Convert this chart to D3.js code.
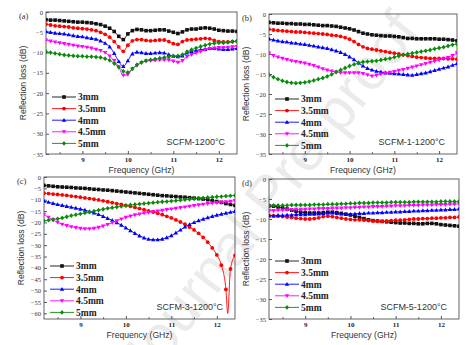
<!DOCTYPE html>
<html>
<head>
<meta charset="utf-8">
<script src="https://cdn.jsdelivr.net/npm/d3@7"></script>
<style>
  body { margin: 0; background: #fff; }
  svg { display: block; }
  .tick-y { font: 6.5px "Liberation Serif", "Times New Roman", serif; fill: #333; }
  .tick-x { font: bold 7px "Liberation Serif", "Times New Roman", serif; fill: #222; }
  .title { font: 8.6px "Liberation Sans", Arial, sans-serif; fill: #333; }
  .legend { font: bold 9.5px "Liberation Serif", "Times New Roman", serif; fill: #222; }
  .note { font: 9px "Liberation Sans", Arial, sans-serif; fill: #333; }
  .panel { font: 8.5px "Liberation Serif", "Times New Roman", serif; fill: #333; }
</style>
</head>
<body>
<svg id="fig" width="474" height="345"></svg>
<script>
// frequency grid (GHz)
var freq = [8.2, 8.3, 8.4, 8.5, 8.6, 8.7, 8.8, 8.9, 9.0, 9.1, 9.2, 9.3, 9.4, 9.5, 9.6, 9.7, 9.8, 9.9,
  10.0, 10.1, 10.2, 10.3, 10.4, 10.5, 10.6, 10.7, 10.8, 10.9, 11.0, 11.1, 11.2, 11.3, 11.4, 11.5, 11.6,
  11.7, 11.8, 11.9, 12.0, 12.1, 12.2, 12.3, 12.4];

var thickness = ["3mm", "3.5mm", "4mm", "4.5mm", "5mm"];
var samples = ["SCFM-1200\u00b0C", "SCFM-1-1200\u00b0C", "SCFM-3-1200\u00b0C", "SCFM-5-1200\u00b0C"];
var panelTags = ["(a)", "(b)", "(c)", "(d)"];
var yTicksShort = [0, -5, -10, -15, -20, -25, -30, -35];
var yTicksLong = [0, -5, -10, -15, -20, -25, -30, -35, -40, -45, -50, -55, -60];
var xTicks = [9, 10, 11, 12];

// (a) SCFM-1200
var a_3mm = [-1.9, -2.0, -2.0, -2.1, -2.2, -2.3, -2.4, -2.5, -2.5, -2.6, -2.7, -2.9, -3.1, -3.5, -4.0, -4.8, -6.0, -6.8,
  -5.4, -4.6, -4.3, -4.4, -4.6, -4.6, -4.5, -4.4, -4.4, -4.7, -5.0, -5.3, -4.9, -4.4, -4.2, -4.2, -4.0, -3.9, -4.0, -4.2,
  -4.5, -4.6, -4.7, -4.7, -4.8];
var a_35mm = [-3.0, -3.2, -3.4, -3.5, -3.6, -3.7, -3.9, -4.0, -4.1, -4.2, -4.4, -4.6, -5.0, -5.5, -6.2, -7.3, -8.6, -9.7,
  -8.2, -7.1, -6.8, -6.8, -7.0, -7.1, -7.0, -6.9, -6.9, -7.3, -7.8, -8.0, -7.3, -6.9, -6.8, -6.7, -6.6, -6.5, -6.6, -7.0,
  -7.3, -7.4, -7.4, -7.3, -7.2];
var a_4mm = [-4.8, -5.0, -5.2, -5.3, -5.4, -5.6, -5.8, -6.0, -6.1, -6.3, -6.5, -6.7, -7.1, -7.7, -8.6, -10.2, -12.2, -13.4,
  -12.0, -10.3, -9.9, -10.0, -10.2, -10.2, -10.1, -10.0, -10.1, -10.5, -10.9, -11.0, -10.8, -10.1, -9.7, -9.5, -9.3, -9.2,
  -9.0, -9.0, -9.1, -9.2, -9.2, -9.1, -9.0];
var a_45mm = [-6.9, -7.2, -7.4, -7.6, -7.8, -8.0, -8.2, -8.4, -8.5, -8.7, -8.9, -9.2, -9.5, -10.0, -10.9, -12.0, -13.6, -15.6,
  -15.4, -14.0, -13.2, -12.5, -12.1, -12.0, -11.9, -11.8, -11.8, -11.8, -12.1, -12.4, -12.0, -11.0, -10.5, -10.1, -9.7,
  -9.3, -9.0, -8.9, -8.8, -8.8, -8.7, -8.6, -8.5];
var a_5mm = [-9.8, -10.0, -10.2, -10.4, -10.6, -10.7, -10.8, -10.9, -10.9, -11.0, -11.0, -11.1, -11.2, -11.5, -11.9, -12.7,
  -13.6, -14.6, -14.9, -14.0, -13.0, -12.4, -12.0, -11.8, -11.6, -11.4, -11.2, -11.0, -10.8, -10.8, -10.5, -9.8, -9.3,
  -8.9, -8.5, -8.2, -7.9, -7.7, -7.6, -7.6, -7.5, -7.3, -7.2];

// (b) SCFM-1-1200
var b_3mm = [-2.1, -2.2, -2.3, -2.3, -2.4, -2.4, -2.5, -2.5, -2.6, -2.6, -2.7, -2.8, -2.9, -2.9, -3.0, -3.1, -3.3, -3.5,
  -3.7, -4.0, -4.4, -4.8, -5.0, -5.2, -5.3, -5.4, -5.5, -5.5, -5.6, -5.7, -5.9, -6.1, -6.1, -6.2, -6.2, -6.2, -6.2, -6.2,
  -6.3, -6.3, -6.4, -6.5, -6.7];
var b_35mm = [-3.8, -4.0, -4.1, -4.2, -4.3, -4.4, -4.5, -4.5, -4.6, -4.7, -4.8, -4.9, -5.0, -5.1, -5.3, -5.4, -5.6, -5.9,
  -6.3, -6.9, -7.6, -8.2, -8.6, -8.8, -9.0, -9.2, -9.4, -9.6, -9.8, -10.0, -10.2, -10.4, -10.6, -10.8, -10.9, -11.0,
  -11.1, -11.1, -11.1, -11.1, -11.2, -11.2, -11.3];
var b_4mm = [-6.2, -6.5, -6.7, -6.9, -7.0, -7.2, -7.3, -7.5, -7.6, -7.8, -8.0, -8.2, -8.4, -8.6, -8.9, -9.2, -9.6, -10.1,
  -10.7, -11.4, -12.2, -13.0, -13.6, -14.0, -14.3, -14.5, -14.7, -14.8, -14.9, -15.0, -15.1, -15.2, -15.3, -15.1, -14.9,
  -14.7, -14.4, -14.1, -13.8, -13.5, -13.2, -12.8, -12.4];
var b_45mm = [-9.8, -10.4, -10.8, -11.1, -11.4, -11.7, -11.9, -12.1, -12.3, -12.6, -12.9, -13.3, -13.7, -14.0, -14.3,
  -14.5, -14.7, -14.7, -14.7, -14.7, -14.7, -14.9, -15.2, -15.5, -15.3, -15.0, -14.8, -14.6, -14.4, -14.1, -13.9, -13.6,
  -13.3, -13.0, -12.7, -12.4, -12.1, -11.8, -11.5, -11.2, -10.9, -10.4, -9.7];
var b_5mm = [-15.2, -15.8, -16.3, -16.7, -17.0, -17.2, -17.3, -17.2, -17.1, -16.9, -16.6, -16.3, -16.0, -15.6, -15.1,
  -14.5, -14.0, -13.5, -13.0, -12.6, -12.2, -12.0, -11.9, -11.8, -11.7, -11.5, -11.3, -11.1, -10.8, -10.5, -10.2, -10.0,
  -9.8, -9.6, -9.4, -9.2, -9.0, -8.7, -8.5, -8.3, -8.0, -7.7, -7.5];

// (c) SCFM-3-1200
var c_3mm = [-3.7, -3.9, -4.1, -4.3, -4.4, -4.5, -4.6, -4.8, -4.9, -5.0, -5.2, -5.4, -5.5, -5.7, -5.8, -6.0, -6.2, -6.4,
  -6.6, -6.8, -7.0, -7.2, -7.4, -7.6, -7.8, -8.0, -8.2, -8.3, -8.5, -8.6, -8.8, -8.9, -9.1, -9.3, -9.5, -9.7, -10.0,
  -10.4, -10.8, -11.2, -11.7, -12.1, -12.5];
var c_35mm = [-7.1, -7.3, -7.5, -7.7, -7.9, -8.1, -8.4, -8.6, -8.9, -9.2, -9.5, -9.8, -10.1, -10.5, -10.9, -11.3, -11.7,
  -12.1, -12.5, -12.9, -13.4, -13.9, -14.4, -14.9, -15.4, -16.0, -16.6, -17.3, -18.0, -18.9, -19.8, -20.8, -22.0, -23.3,
  -24.8, -26.6, -28.7, -31.2, -34.3, -38.8, -49.5, -40.5, -34.5];
// sharp absorption peak of the 3.5mm curve, between the 12.2 and 12.3 GHz points
var c_35mm_peakFreq = 12.24;
var c_35mm_peakLoss = -60;
var c_4mm = [-10.6, -11.1, -11.6, -12.1, -12.5, -12.9, -13.3, -13.7, -14.1, -14.6, -15.2, -15.8, -16.5, -17.3, -18.2,
  -19.1, -20.1, -21.2, -22.4, -23.6, -24.8, -25.9, -26.8, -27.4, -27.6, -27.6, -27.3, -26.7, -25.8, -24.6, -23.3, -22.0,
  -20.9, -20.0, -19.2, -18.5, -17.9, -17.3, -16.8, -16.3, -15.9, -15.5, -15.1];
var c_45mm = [-16.4, -17.8, -19.0, -20.0, -20.8, -21.4, -21.9, -22.3, -22.6, -22.8, -22.8, -22.6, -22.2, -21.6, -20.9,
  -20.1, -19.3, -18.5, -17.8, -17.2, -16.7, -16.3, -15.9, -15.6, -15.3, -15.0, -14.7, -14.4, -14.1, -13.8, -13.5, -13.2,
  -12.9, -12.6, -12.3, -12.0, -11.7, -11.5, -11.3, -11.1, -10.9, -10.7, -10.4];
var c_5mm = [-19.3, -19.0, -18.7, -18.4, -18.0, -17.5, -17.0, -16.6, -16.2, -15.8, -15.4, -15.0, -14.6, -14.2, -13.8,
  -13.5, -13.2, -12.9, -12.6, -12.3, -12.1, -11.9, -11.7, -11.5, -11.3, -11.1, -10.9, -10.8, -10.6, -10.4, -10.2, -10.0,
  -9.8, -9.6, -9.4, -9.2, -9.0, -8.9, -8.7, -8.6, -8.4, -8.3, -8.1];

// (d) SCFM-5-1200
var d_3mm = [-6.7, -6.8, -7.0, -7.2, -7.5, -7.8, -8.1, -8.3, -8.4, -8.5, -8.5, -8.5, -8.4, -8.3, -8.3, -8.4, -8.6, -8.8,
  -9.0, -9.3, -9.6, -9.9, -10.2, -10.4, -10.5, -10.6, -10.7, -10.8, -10.9, -11.0, -11.0, -11.1, -11.1, -11.2, -11.2,
  -11.1, -11.1, -11.2, -11.4, -11.5, -11.6, -11.7, -11.8];
var d_35mm = [-9.1, -9.2, -9.3, -9.4, -9.5, -9.6, -9.8, -9.9, -10.0, -10.0, -9.9, -9.7, -9.4, -9.3, -9.4, -9.6, -9.8,
  -10.0, -10.1, -10.2, -10.2, -10.3, -10.4, -10.5, -10.6, -10.6, -10.5, -10.4, -10.3, -10.3, -10.2, -10.1, -10.0, -10.0,
  -9.9, -9.9, -9.8, -9.8, -9.7, -9.7, -9.6, -9.6, -9.5];
var d_4mm = [-9.2, -9.2, -9.1, -9.1, -9.0, -9.0, -8.9, -8.9, -8.9, -8.8, -8.8, -8.7, -8.6, -8.5, -8.5, -8.6, -8.7, -8.8,
  -8.8, -8.7, -8.6, -8.6, -8.5, -8.5, -8.4, -8.4, -8.3, -8.3, -8.2, -8.2, -8.1, -8.1, -8.0, -8.0, -7.9, -7.9, -7.8, -7.8,
  -7.7, -7.7, -7.6, -7.6, -7.5];
var d_45mm = [-7.9, -7.9, -7.8, -7.8, -7.7, -7.7, -7.6, -7.6, -7.6, -7.5, -7.5, -7.4, -7.4, -7.4, -7.3, -7.3, -7.3, -7.2,
  -7.2, -7.1, -7.1, -7.0, -7.0, -6.9, -6.9, -6.9, -6.8, -6.8, -6.7, -6.7, -6.7, -6.6, -6.6, -6.6, -6.5, -6.5, -6.5, -6.4,
  -6.4, -6.4, -6.3, -6.3, -6.2];
var d_5mm = [-6.6, -6.6, -6.6, -6.6, -6.6, -6.5, -6.5, -6.5, -6.5, -6.5, -6.4, -6.4, -6.4, -6.3, -6.3, -6.3, -6.2, -6.2,
  -6.1, -6.1, -6.0, -6.0, -6.0, -5.9, -5.9, -5.9, -5.9, -5.8, -5.8, -5.8, -5.8, -5.8, -5.7, -5.7, -5.7, -5.7, -5.7, -5.7,
  -5.6, -5.6, -5.6, -5.6, -5.6];

var colors = ["#111111", "#ff0000", "#0000ff", "#ff00ff", "#0a8a0a"];

var svg = d3.select("#fig");

// layout of the four panels
var panels = [
  {tag: 0, series: [a_3mm, a_35mm, a_4mm, a_45mm, a_5mm], yMin: -35, yTicks: yTicksShort, left: 46, right: 237, top: 12, bottom: 154, legTop: 97},
  {tag: 1, series: [b_3mm, b_35mm, b_4mm, b_45mm, b_5mm], yMin: -35, yTicks: yTicksShort, left: 269, right: 457, top: 14, bottom: 154, legTop: 99},
  {tag: 2, series: [c_3mm, c_35mm, c_4mm, c_45mm, c_5mm], yMin: -62.5, yTicks: yTicksLong, left: 44, right: 235, top: 177, bottom: 319, legTop: 266},
  {tag: 3, series: [d_3mm, d_35mm, d_4mm, d_45mm, d_5mm], yMin: -35, yTicks: yTicksShort, left: 269, right: 459, top: 179, bottom: 319, legTop: 261}
];

// watermark behind everything
svg.append("text")
  .attr("transform", "translate(268,196) rotate(-52)")
  .attr("text-anchor", "middle")
  .attr("dy", "0.35em")
  .style("font", "58px 'Liberation Sans', Arial, sans-serif")
  .style("fill", "#ebebeb")
  .text("Journal Pre-proof");

function marker(g, i, x, y) {
  var c = colors[i];
  if (i == 0) {
    g.append("rect").attr("x", x - 1.8).attr("y", y - 1.8).attr("width", 3.6).attr("height", 3.6).attr("fill", c);
  } else if (i == 1) {
    g.append("circle").attr("cx", x).attr("cy", y).attr("r", 1.9).attr("fill", c);
  } else if (i == 2) {
    g.append("path").attr("d", `M ${x} ${y - 2.3} L ${x + 2.2} ${y + 1.6} L ${x - 2.2} ${y + 1.6} Z`).attr("fill", c);
  } else if (i == 3) {
    g.append("path").attr("d", `M ${x} ${y + 2.3} L ${x + 2.2} ${y - 1.6} L ${x - 2.2} ${y - 1.6} Z`).attr("fill", c);
  } else {
    g.append("path").attr("d", `M ${x} ${y - 2.4} L ${x + 2} ${y} L ${x} ${y + 2.4} L ${x - 2} ${y} Z`).attr("fill", c);
  }
}

panels.forEach(function(p) {
  var x = d3.scaleLinear().domain([8.2, 12.4]).range([p.left, p.right]);
  var y = d3.scaleLinear().domain([p.yMin, 0]).range([p.bottom, p.top]);
  var g = svg.append("g");

  // frame
  g.append("rect")
    .attr("x", p.left).attr("y", p.top)
    .attr("width", p.right - p.left).attr("height", p.bottom - p.top)
    .attr("fill", "none").attr("stroke", "#555").attr("stroke-width", 0.9);

  // inward ticks
  var xAxis = d3.axisBottom(x).tickValues(xTicks).tickSize(-3).tickFormat(d3.format("d"));
  var gx = g.append("g").attr("transform", `translate(0,${p.bottom})`).call(xAxis);
  gx.select(".domain").remove();
  gx.selectAll(".tick line").attr("stroke", "#555");
  gx.selectAll(".tick text").attr("class", "tick-x").attr("y", 3).attr("dy", "0.71em");
  g.append("g").attr("transform", `translate(0,${p.bottom})`)
    .call(d3.axisBottom(x).tickValues([8.5, 9.5, 10.5, 11.5]).tickSize(-1.8).tickFormat(""))
    .call(s => { s.select(".domain").remove(); s.selectAll("line").attr("stroke", "#555"); });

  var yAxis = d3.axisLeft(y).tickValues(p.yTicks).tickSize(-3).tickFormat(d3.format("d"));
  var gy = g.append("g").attr("transform", `translate(${p.left},0)`).call(yAxis);
  gy.select(".domain").remove();
  gy.selectAll(".tick line").attr("stroke", "#555");
  gy.selectAll(".tick text").attr("class", "tick-y").attr("x", -3);

  // axis titles
  g.append("text").attr("class", "title")
    .attr("x", (p.left + p.right) / 2).attr("y", p.bottom + 19)
    .attr("text-anchor", "middle").text("Frequency (GHz)");
  g.append("text").attr("class", "title")
    .attr("transform", `translate(${p.left - 20},${(p.top + p.bottom) / 2}) rotate(-90)`)
    .attr("text-anchor", "middle").text("Reflection loss (dB)");

  g.append("text").attr("class", "panel")
    .attr("x", p.left - 27).attr("y", p.top + 7).text(panelTags[p.tag]);
  g.append("text").attr("class", "note")
    .attr("x", p.right - 12).attr("y", p.bottom - 9)
    .attr("text-anchor", "end").text(samples[p.tag]);

  // curves
  var clip = "clip" + p.tag;
  g.append("clipPath").attr("id", clip).append("rect")
    .attr("x", p.left).attr("y", p.top).attr("width", p.right - p.left).attr("height", p.bottom - p.top);
  var plot = g.append("g").attr("clip-path", `url(#${clip})`);
  var line = d3.line().x(d => x(d[0])).y(d => y(d[1])).curve(d3.curveMonotoneX);

  p.series.forEach(function(vals, i) {
    var pts = freq.map((f, k) => [f, vals[k]]);
    var path = pts.slice();
    if (p.tag == 2 && i == 1) {
      path.splice(41, 0, [c_35mm_peakFreq, c_35mm_peakLoss]);
    }
    plot.append("path").attr("d", line(path))
      .attr("fill", "none").attr("stroke", colors[i]).attr("stroke-width", 0.9);
    pts.forEach(d => marker(plot, i, x(d[0]), y(d[1])));
  });

  // legend
  thickness.forEach(function(name, i) {
    var ly = p.legTop + i * 11.6;
    var lx = p.left + 6;
    g.append("line").attr("x1", lx).attr("x2", lx + 24).attr("y1", ly).attr("y2", ly)
      .attr("stroke", colors[i]).attr("stroke-width", 0.9);
    marker(g, i, lx + 12, ly);
    g.append("text").attr("class", "legend").attr("x", lx + 26).attr("y", ly).attr("dy", "0.35em").text(name);
  });
});
</script>
</body>
</html>
